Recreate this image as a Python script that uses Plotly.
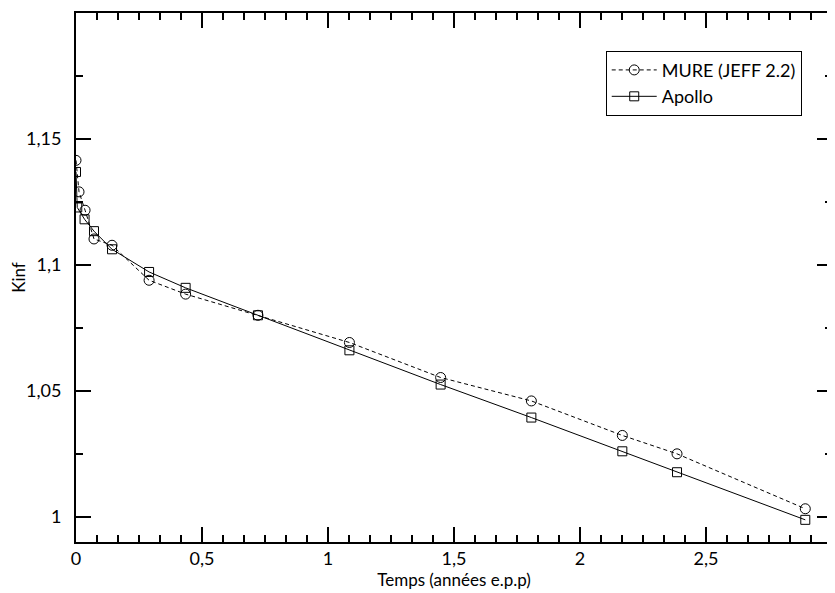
import numpy as np
import plotly.graph_objects as go

# --- data ---
mure_t = [0.0, 0.012, 0.036, 0.0714, 0.143, 0.29, 0.435, 0.722, 1.085, 1.447, 1.807, 2.168, 2.385, 2.894]
mure_k = [1.1415, 1.1290, 1.1217, 1.1103, 1.1078, 1.0939, 1.0884, 1.0800, 1.0692, 1.0553, 1.0460, 1.0323, 1.0250, 1.0032]

apollo_t = [0.0, 0.005, 0.034, 0.0714, 0.143, 0.29, 0.435, 0.722, 1.085, 1.447, 1.807, 2.168, 2.385, 2.894]
apollo_k = [1.1369, 1.1228, 1.1181, 1.1134, 1.1062, 1.0972, 1.0909, 1.0800, 1.0661, 1.0525, 1.0394, 1.0260, 1.0177, 0.9988]

x_tickvals = [0, 0.5, 1, 1.5, 2, 2.5, 3]
x_ticktext = ["0", "0,5", "1", "1,5", "2", "2,5", "3"]
y_tickvals = [1, 1.05, 1.1, 1.15]
y_ticktext = ["1\u00a0\u00a0", "1,05\u00a0\u00a0", "1,1\u00a0\u00a0", "1,15\u00a0\u00a0"]

FONT = "Lato, 'Noto Sans', sans-serif"

fig = go.Figure()
fig.add_trace(go.Scatter(
    x=mure_t, y=mure_k, mode="lines+markers", name="MURE (JEFF 2.2)",
    line=dict(color="black", width=1, dash="4px,3px"),
    marker=dict(symbol="circle-open", size=10, color="black", line=dict(width=1, color="black")),
))
fig.add_trace(go.Scatter(
    x=apollo_t, y=apollo_k, mode="lines+markers", name="Apollo",
    line=dict(color="black", width=1),
    marker=dict(symbol="square-open", size=9, color="black", line=dict(width=1, color="black")),
))

# page body has an 8px margin, so the figure is shrunk/offset to land where the reference is
fig.update_layout(
    width=827, height=585,
    margin=dict(l=68, r=3, t=5, b=51, autoexpand=False),
    plot_bgcolor="white",
    font=dict(family=FONT, size=18, color="black"),
    showlegend=True,
    legend=dict(
        x=0.7007, y=0.9287, xanchor="left", yanchor="top",
        bordercolor="black", borderwidth=1, bgcolor="white",
        font=dict(size=18), itemwidth=45, tracegroupgap=0,
        entrywidth=150, entrywidthmode="pixels",
    ),
)

fig.update_xaxes(
    range=[0, 3], showgrid=False, zeroline=False, automargin=False,
    showline=True, linecolor="black", linewidth=1.5, mirror="allticks",
    tickmode="array", tickvals=x_tickvals, ticktext=x_ticktext,
    ticks="inside", ticklen=15, tickwidth=1.5, tickcolor="black",
    minor=dict(dtick=0.5 / 6, ticks="inside", ticklen=7, tickwidth=1.5, tickcolor="black"),
    title=dict(text="Temps (années e.p.p)", standoff=2, font=dict(size=17)),
)
fig.update_yaxes(
    range=[0.99, 1.2], showgrid=False, zeroline=False, automargin=False,
    showline=True, linecolor="black", linewidth=1.5, mirror="allticks",
    tickmode="array", tickvals=y_tickvals, ticktext=y_ticktext,
    ticks="inside", ticklen=15, tickwidth=1.5, tickcolor="black",
    minor=dict(dtick=0.025, ticks="inside", ticklen=7, tickwidth=1.5, tickcolor="black"),
    title=dict(text="Kinf", standoff=8, font=dict(size=17)),
)

fig.write_html("out.html")
